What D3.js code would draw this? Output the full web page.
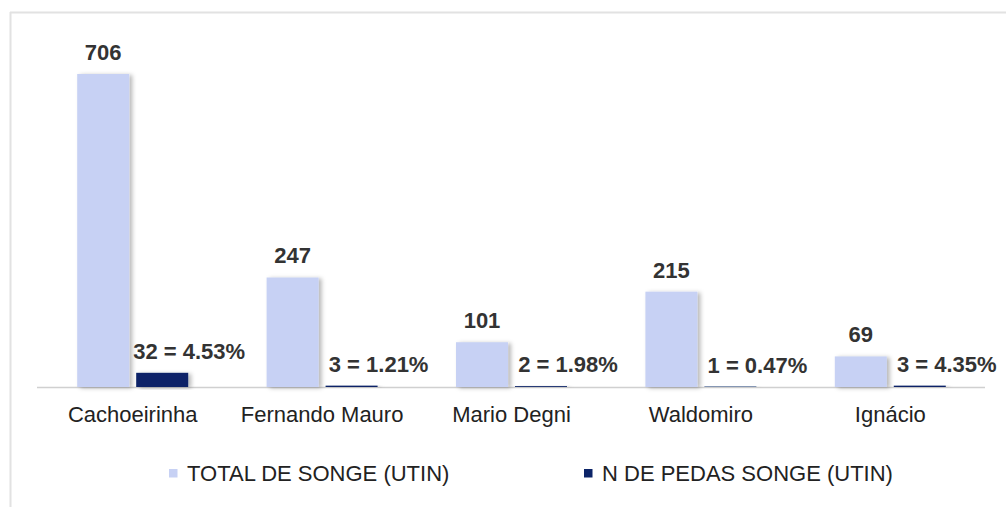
<!DOCTYPE html>
<html><head><meta charset="utf-8">
<script src="https://cdn.jsdelivr.net/npm/d3@7"></script>
<style>body{margin:0;background:#fff}svg{display:block}</style>
</head><body>
<script>
const categories = ["Cachoeirinha","Fernando Mauro","Mario Degni","Waldomiro","Ignácio"];
const seriesNames = ["TOTAL DE SONGE (UTIN)","N DE PEDAS SONGE (UTIN)"];
const totalValues = [706,247,101,215,69];
const pedasValues = [32,3,2,1,3];
const pedasLabels = ["32 = 4.53%","3 = 1.21%","2 = 1.98%","1 = 0.47%","3 = 4.35%"];
const colors = ["#c7d1f4","#0c2468"];

const W=1006,H=507;
const FONT="Liberation Sans, Arial, sans-serif";
const svg=d3.select("body").append("svg").attr("width",W).attr("height",H);
const defs=svg.append("defs");
const f=defs.append("filter").attr("id","sh").attr("x","-20%").attr("y","-20%").attr("width","160%").attr("height","140%");
f.append("feDropShadow").attr("dx",3).attr("dy",1).attr("stdDeviation",2).attr("flood-color","#000").attr("flood-opacity",0.28);

// frame
svg.append("line").attr("x1",10).attr("x2",W).attr("y1",12.5).attr("y2",12.5).attr("stroke","#e2e2e2").attr("stroke-width",2);
svg.append("line").attr("x1",10.5).attr("x2",10.5).attr("y1",12).attr("y2",H).attr("stroke","#e2e2e2").attr("stroke-width",2);

const x0=d3.scaleBand().domain(categories).range([38,985]).paddingInner(0.414).paddingOuter(0.207);
const x1=d3.scaleBand().domain([0,1]).range([0,x0.bandwidth()]).paddingInner(0.118).paddingOuter(0);
const y=d3.scaleLinear().domain([0,706]).range([387,74]);

const data=categories.map((c,i)=>({c,vals:[totalValues[i],pedasValues[i]],labs:[String(totalValues[i]),pedasLabels[i]]}));

// axis baseline
svg.append("line").attr("x1",37).attr("x2",985).attr("y1",387.5).attr("y2",387.5).attr("stroke","#d0d0d0").attr("stroke-width",1.5);

const g=svg.selectAll("g.grp").data(data).enter().append("g").attr("transform",d=>`translate(${x0(d.c)},0)`);
g.selectAll("rect").data(d=>d.vals.map((v,k)=>({v,k}))).enter().append("rect")
  .attr("x",d=>x1(d.k)).attr("width",x1.bandwidth())
  .attr("y",d=>y(d.v)).attr("height",d=>387-y(d.v))
  .attr("fill",d=>colors[d.k]).attr("filter","url(#sh)");
g.selectAll("text.val").data(d=>d.vals.map((v,k)=>({v,k,l:d.labs[k]}))).enter().append("text")
  .attr("x",d=>d.k===0 ? x1(d.k)+x1.bandwidth()/2 : x1(d.k)+x1.bandwidth()+1)
  .attr("y",d=>y(d.v)-14)
  .attr("text-anchor","middle").attr("font-family",FONT)
  .attr("font-weight","bold").attr("font-size",22).attr("fill","#333").text(d=>d.l);

// category labels
svg.selectAll("text.cat").data(categories).enter().append("text")
  .attr("x",d=>x0(d)+x0.bandwidth()/2).attr("y",422)
  .attr("text-anchor","middle").attr("font-family",FONT)
  .attr("font-size",22).attr("fill","#222").text(d=>d);

// legend
const legX=[169,584];
const lg=svg.selectAll("g.leg").data(seriesNames).enter().append("g").attr("transform",(d,i)=>`translate(${legX[i]},0)`);
lg.append("rect").attr("x",0).attr("y",469).attr("width",8.5).attr("height",8.5).attr("fill",(d,i)=>colors[i]);
lg.append("text").attr("x",18).attr("y",481).attr("font-family",FONT)
  .attr("font-size",22).attr("fill","#222").text(d=>d);
</script>
</body></html>
